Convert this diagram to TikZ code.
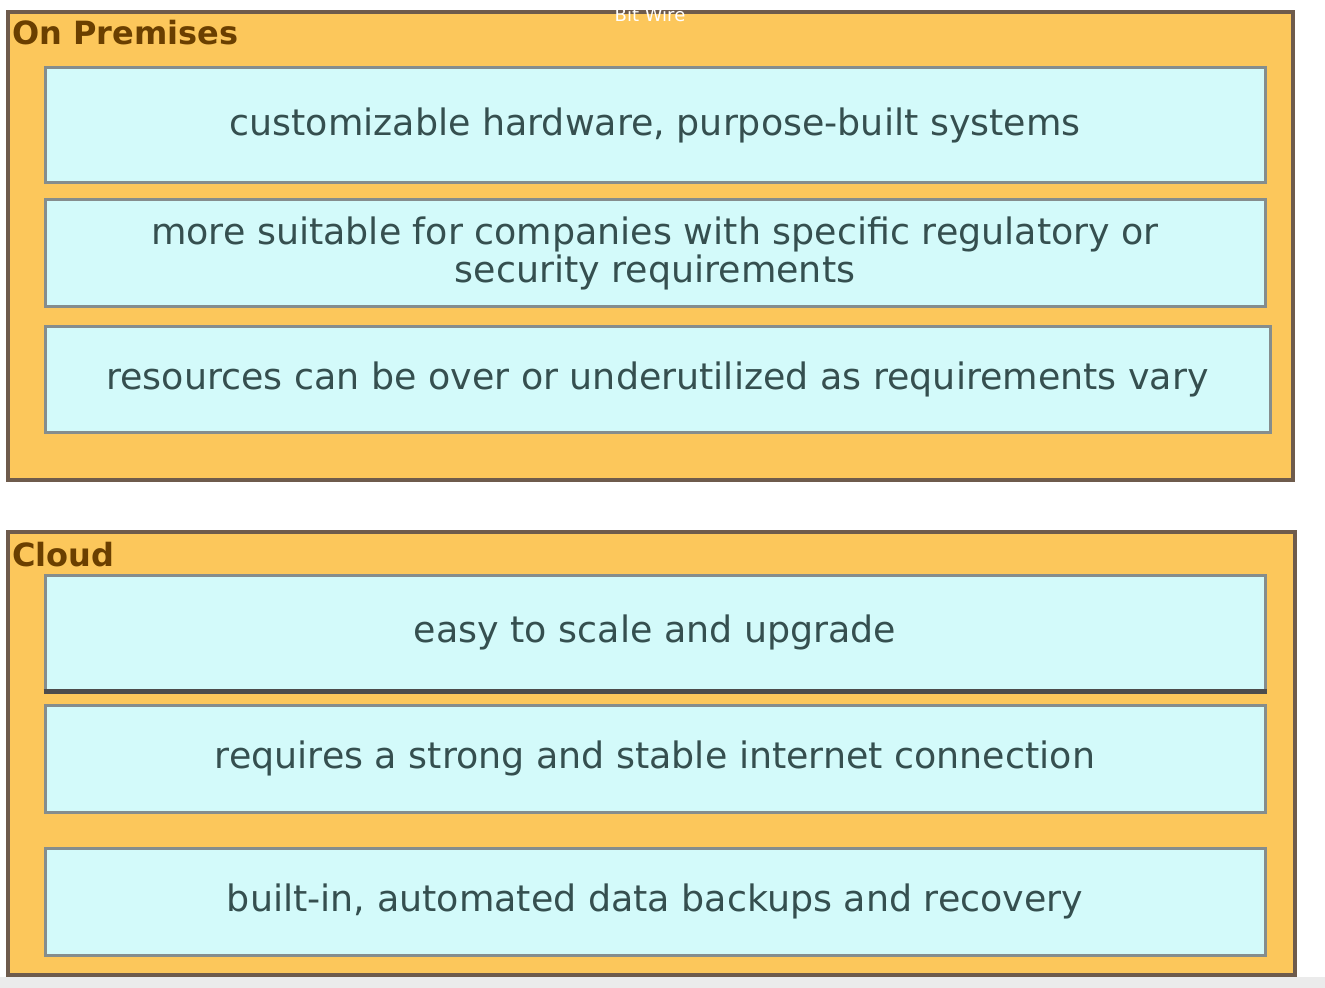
\documentclass[tikz,border=0pt]{standalone}
\usepackage{fontspec}
\setmainfont{DejaVu Sans}
\definecolor{frameorange}{HTML}{FCC75B}
\definecolor{frameline}{HTML}{6E5B4C}
\definecolor{itemfill}{HTML}{D3FAFA}
\definecolor{itemline}{HTML}{858D8D}
\definecolor{itemtext}{HTML}{354F4F}
\definecolor{titletext}{HTML}{6A3F00}

\begin{document}
\begin{tikzpicture}[x=0.5pt,y=-0.5pt,
  frame/.style={draw=frameline,line width=1.75pt,fill=frameorange,
    minimum width=#1,inner sep=0pt},
  item/.style={draw=itemline,line width=1.5pt,fill=itemfill,
    minimum width=610pt,text=itemtext,font=\fontsize{18.2}{17.5}\selectfont,
    align=center,inner sep=0pt},
  heading/.style={anchor=west,text=titletext,font=\fontsize{16}{18}\selectfont\bfseries,inner sep=0pt}]
  \useasboundingbox[fill=white] (0,0) rectangle (1325,988);
  \fill[black!8] (0,977) rectangle (1325,988);
  % on premises
  \node[frame=642.5pt,minimum height=234pt] (premises) at (650.5,246) {};
  \node[heading] (premisestitle) at (12,33) {On Premises};
  \node[white,font=\fontsize{9}{10}\selectfont] (bitwire) at (650,15) {Bit Wire};
  \node[item,minimum height=57.5pt] (hardware) at (655,125.5)
    {\raisebox{-2pt}{customizable hardware, purpose-built systems}};
  \node[item,minimum height=53.5pt] (regulatory) at (655,253.5)
    {more suitable for companies with specific regulatory or\\security requirements};
  \node[item,minimum width=612.5pt,minimum height=52.5pt] (resources) at (657.5,379.5)
    {resources can be over or underutilized as requirements vary};
  % cloud
  \node[frame=643.5pt,minimum height=221.5pt] (cloud) at (651.5,753.5) {};
  \node[heading] (cloudtitle) at (12,555) {Cloud};
  \node[item,minimum height=57.5pt] (scale) at (655,632.5)
    {easy to scale and upgrade};
  \draw[black!70,line width=2.5pt] (scale.south west) -- (scale.south east);
  \node[item,minimum height=53.5pt] (internet) at (655,758.5)
    {requires a strong and stable internet connection};
  \node[item,minimum height=53.5pt] (backups) at (655,901.5)
    {built-in, automated data backups and recovery};
\end{tikzpicture}
\end{document}
